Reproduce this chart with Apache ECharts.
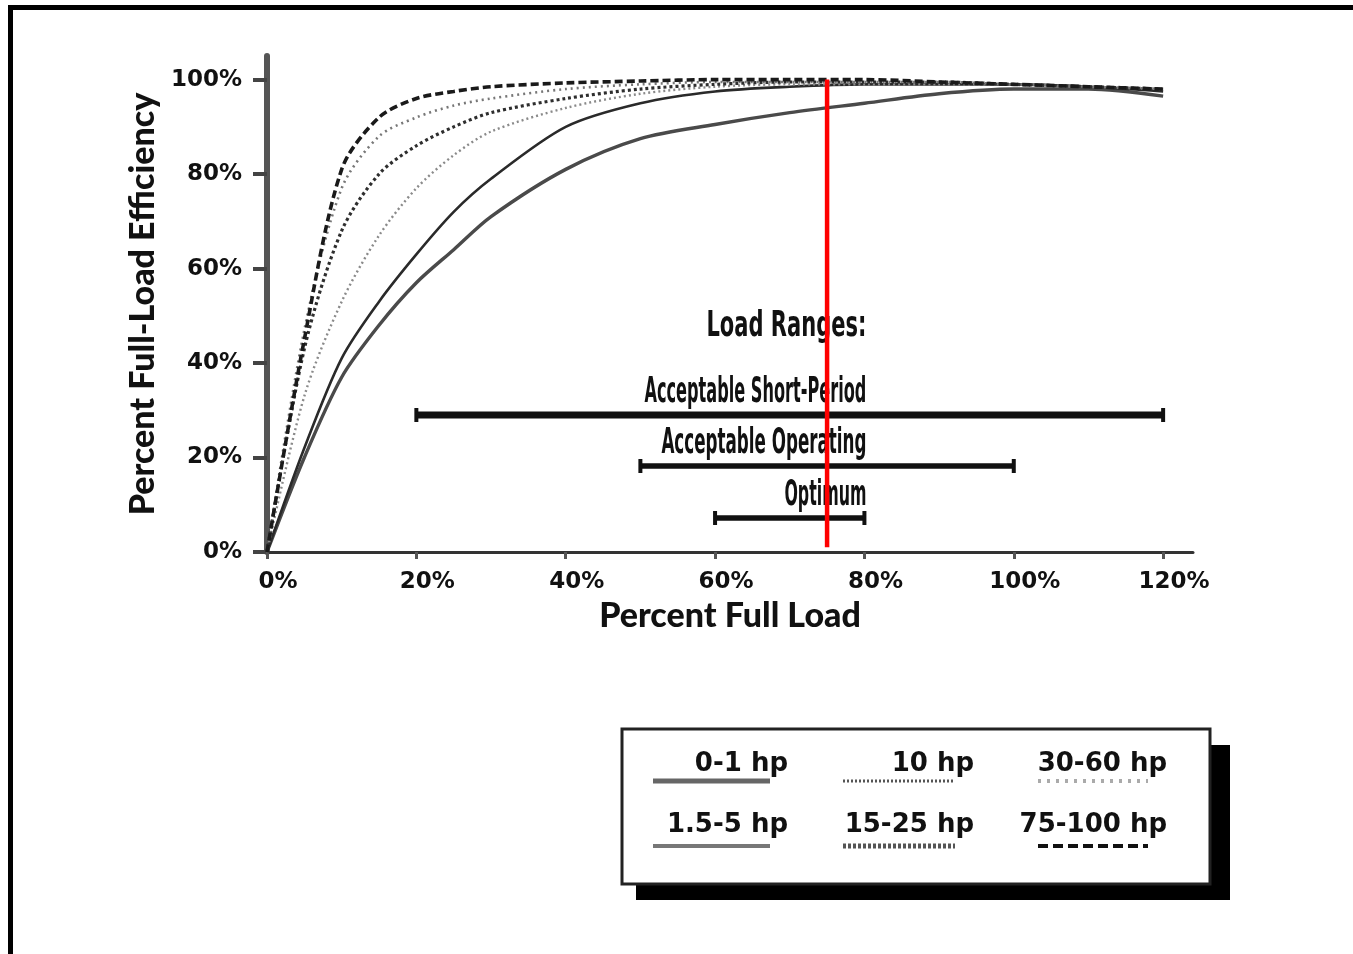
<!DOCTYPE html>
<html>
<head>
<meta charset="utf-8">
<script src="https://cdn.jsdelivr.net/npm/echarts@6/dist/echarts.min.js"></script>
<style>
html,body{margin:0;padding:0;background:#fff;}
#chart{width:1353px;height:954px;}
</style>
</head>
<body>
<div id="chart"></div>
<script>
// ---------- data ----------
const loads = [0, 5, 10, 15, 20, 25, 30, 40, 50, 60, 70, 80, 90, 100, 110, 120];
const seriesNames = ['0-1 hp', '1.5-5 hp', '10 hp', '15-25 hp', '30-60 hp', '75-100 hp'];
const eff_0_1   = [0, 20, 37, 48, 57, 64, 71, 81, 87.5, 90.5, 93, 95, 97, 98, 98, 96.5];
const eff_1_5   = [0, 22, 41, 53, 63, 72, 79, 90, 95, 97.5, 98.5, 99, 99, 99, 98.5, 97.5];
const eff_10    = [0, 33, 53, 67, 77, 84, 89, 94, 97, 98.5, 99, 99, 99, 99, 98.5, 98];
const eff_15_25 = [0, 43, 68, 80, 86, 90, 93, 96, 98, 99, 99.5, 99.5, 99.5, 99, 98.5, 98];
const eff_30_60 = [0, 47, 77, 88, 92, 94.5, 96, 98, 99, 99.5, 99.5, 99.5, 99.5, 99, 98.5, 98];
const eff_75_100= [0, 45, 81, 92, 96, 97.5, 98.5, 99.3, 99.7, 100, 100, 100, 99.5, 99, 98.5, 98];
const effData = [eff_0_1, eff_1_5, eff_10, eff_15_25, eff_30_60, eff_75_100];

const xTicks = [0, 20, 40, 60, 80, 100, 120];
const yTicks = [0, 20, 40, 60, 80, 100];

const rangeTitle = 'Load Ranges:';
const rangeNames = ['Acceptable Short-Period', 'Acceptable Operating', 'Optimum'];
const rangeStart = [20, 50, 60];
const rangeEnd   = [120, 100, 80];
const rangeLevel = [29, 18.2, 7.2];
const rangeLabelAnchor = 80;

const markerLoad = 75;
const markerSpan = [1, 100];

// ---------- styles ----------
const lineStyles = [
  {color: '#4a4a4a', width: 3.4, type: 'solid'},
  {color: '#2a2a2a', width: 2.6, type: 'solid'},
  {color: '#8a8a8a', width: 2.4, type: [2, 3]},
  {color: '#2e2e2e', width: 3.2, type: [3, 3]},
  {color: '#777', width: 2.6, type: [2, 4]},
  {color: '#1a1a1a', width: 3.6, type: [8, 4]}
];
const legendSample = [
  {color: '#666', width: 5, type: 'solid'},
  {color: '#777', width: 4, type: 'solid'},
  {color: '#555', width: 3, type: [2, 2]},
  {color: '#555', width: 5, type: [3, 2]},
  {color: '#aaa', width: 4, type: [3, 6]},
  {color: '#111', width: 4, type: [10, 5]}
];
const tickFont = '"DejaVu Sans", sans-serif';

const chart = echarts.init(document.getElementById('chart'), null, {renderer: 'canvas'});

const series = [];
seriesNames.forEach((n, i) => {
  series.push({
    name: n, type: 'line', smooth: 0.3, showSymbol: false, symbol: 'none',
    data: loads.map((x, k) => [x, effData[i][k]]),
    lineStyle: lineStyles[i], z: 3
  });
});
rangeNames.forEach((n, i) => {
  series.push({
    name: n, type: 'line', symbol: 'rect', symbolSize: [4, 14],
    itemStyle: {color: '#111'},
    data: [[rangeStart[i], rangeLevel[i]], [rangeEnd[i], rangeLevel[i]]],
    lineStyle: {color: '#111', width: i === 0 ? 7 : 5.5}, z: 4
  });
});
series.push({
  name: 'marker', type: 'line', symbol: 'none',
  data: [[markerLoad, markerSpan[0]], [markerLoad, markerSpan[1]]],
  lineStyle: {color: '#ff0000', width: 4.5}, z: 10
});

chart.setOption({
  animation: false,
  backgroundColor: '#fff',
  grid: {left: 267, top: 56, width: 926, height: 496},
  xAxis: {
    type: 'value', min: 0, max: 124, interval: 20,
    name: 'Percent Full Load', nameLocation: 'middle', nameGap: 46,
    nameTextStyle: {fontFamily: 'Lato, sans-serif', fontWeight: 900, fontSize: 34, color: '#111'},
    axisLine: {show: true, lineStyle: {color: '#333', width: 3}},
    axisTick: {show: true, length: 7, lineStyle: {color: '#555', width: 3}, customValues: xTicks},
    axisLabel: {customValues: xTicks, formatter: v => v + '%', margin: 19,
      fontFamily: tickFont, fontWeight: 'bold', fontSize: 23, color: '#111', padding: [0, 0, 0, 22]},
    splitLine: {show: false}
  },
  yAxis: {
    type: 'value', min: 0, max: 105, interval: 20,
    name: 'Percent Full-Load Efficiency', nameLocation: 'middle', nameGap: 106, nameRotate: 90,
    nameTextStyle: {fontFamily: 'Lato, sans-serif', fontWeight: 900, fontSize: 34, color: '#111'},
    axisLine: {show: true, lineStyle: {color: '#555', width: 6}},
    axisTick: {show: true, length: 14, lineStyle: {color: '#444', width: 4}, customValues: yTicks},
    axisLabel: {customValues: yTicks, formatter: v => v + '%', margin: 25,
      fontFamily: tickFont, fontWeight: 'bold', fontSize: 23, color: '#111'},
    splitLine: {show: false}
  },
  series: series
});

// ---------- annotations (text + legend) ----------
const mctx = document.createElement('canvas').getContext('2d');
function fitScale(text, font, target) {
  mctx.font = font;
  return target / mctx.measureText(text).width;
}
const rangeFont = 'bold 35px "DejaVu Sans"';
const graphics = [];
// frame
graphics.push({type: 'rect', shape: {x: 8, y: 5, width: 1345, height: 5}, style: {fill: '#000'}});
graphics.push({type: 'rect', shape: {x: 8, y: 5, width: 5, height: 949}, style: {fill: '#000'}});

const labelTargets = [222, 205, 82];
rangeNames.forEach((n, i) => {
  const p = chart.convertToPixel({gridIndex: 0}, [rangeLabelAnchor, rangeLevel[i]]);
  graphics.push({
    type: 'text', x: p[0] + 2, y: p[1] - 22, scaleX: fitScale(n, rangeFont, labelTargets[i]),
    style: {text: n, font: rangeFont, fill: '#111', align: 'right', verticalAlign: 'middle'}, z: 5
  });
});
{
  const p = chart.convertToPixel({gridIndex: 0}, [rangeLabelAnchor, rangeLevel[0]]);
  graphics.push({
    type: 'text', x: p[0] + 2, y: p[1] - 88, scaleX: fitScale(rangeTitle, rangeFont, 160),
    style: {text: rangeTitle, font: rangeFont, fill: '#111', align: 'right', verticalAlign: 'middle'}, z: 5
  });
}

// legend box
graphics.push({type: 'rect', shape: {x: 636, y: 745, width: 594, height: 155}, style: {fill: '#000'}});
graphics.push({type: 'rect', shape: {x: 622, y: 729, width: 588, height: 155}, style: {fill: '#fff', stroke: '#222', lineWidth: 3}});
const legCols = [{textRight: 788, x1: 653, x2: 770}, {textRight: 974, x1: 843, x2: 955}, {textRight: 1167, x1: 1038, x2: 1148}];
const legRows = [{textY: 764, lineY: 781}, {textY: 825, lineY: 846}];
const legOrder = [[0, 2, 4], [1, 3, 5]];
legOrder.forEach((row, r) => {
  row.forEach((si, c) => {
    const col = legCols[c], rw = legRows[r];
    graphics.push({type: 'text', x: col.textRight, y: rw.textY,
      style: {text: seriesNames[si], font: 'bold 26px "DejaVu Sans"', fill: '#111', align: 'right', verticalAlign: 'middle'}, z: 6});
    const ls = legendSample[si];
    graphics.push({type: 'line', shape: {x1: col.x1, y1: rw.lineY, x2: col.x2, y2: rw.lineY},
      style: {stroke: ls.color, lineWidth: ls.width, lineDash: ls.type === 'solid' ? null : ls.type}, z: 6});
  });
});

chart.setOption({graphic: graphics});
</script>
</body>
</html>
